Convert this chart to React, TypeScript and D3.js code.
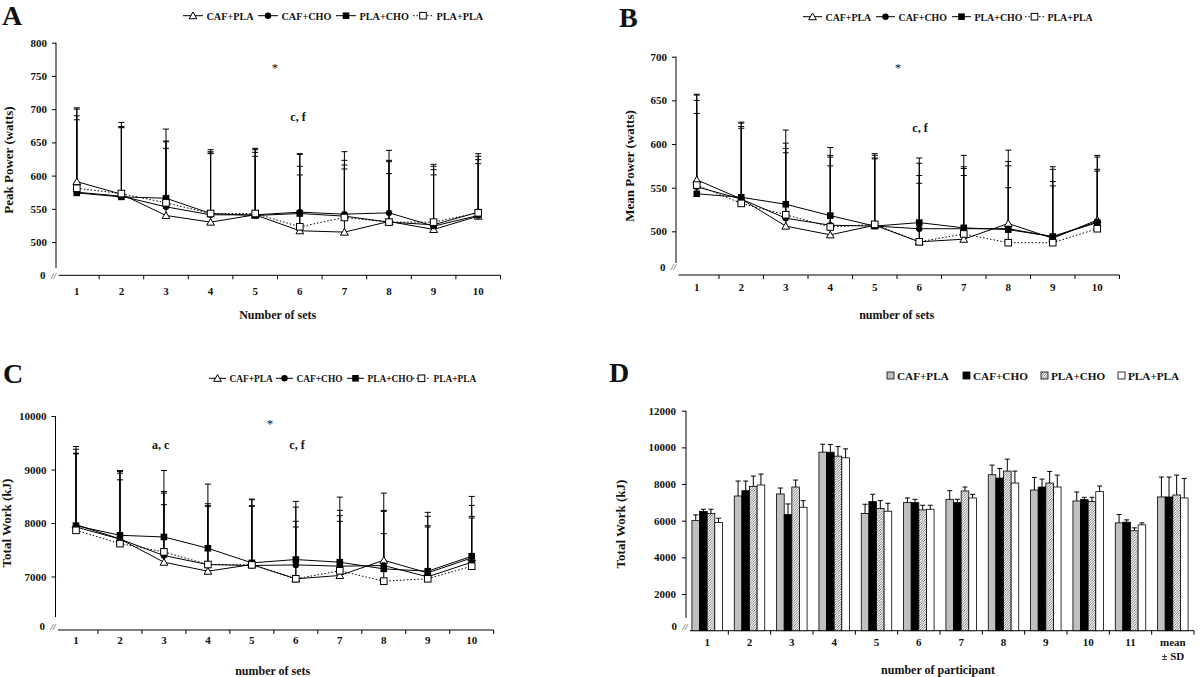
import { useEffect, useRef } from 'react';
import * as d3 from 'd3';

const SERIES = ['CAF+PLA', 'CAF+CHO', 'PLA+CHO', 'PLA+PLA'];
const SETS = ['1', '2', '3', '4', '5', '6', '7', '8', '9', '10'];
const PARTICIPANTS = ['1', '2', '3', '4', '5', '6', '7', '8', '9', '10', '11', 'mean'];

// A - peak power (watts)
const peakCafPla = [591, 572, 540, 530, 541, 517, 515, 531, 519, 539];
const peakCafCho = [575, 569, 553, 541, 541, 545, 542, 544, 524, 540];
const peakPlaCho = [574, 568, 566, 543, 540, 543, 539, 530, 526, 545];
const peakPlaPla = [581, 573, 559, 543, 543, 523, 537, 530, 530, 544];
const peakSdCafPla = [111, 108, 130, 109, 100, 116, 121, 107, 98, 94];
const peakSdCafCho = [115, 105, 98, 95, 98, 87, 81, 79, 90, 89];
const peakSdPlaCho = [110, 105, 86, 91, 95, 71, 77, 91, 83, 79];
const peakSdPlaPla = [119, 99, 82, 90, 86, 78, 73, 73, 71, 74];

// B - mean power (watts)
const meanCafPla = [559, 537, 506, 496, 507, 488, 491, 509, 492, 513];
const meanCafCho = [551, 537, 515, 507, 506, 503, 503, 503, 494, 511];
const meanPlaCho = [543, 539, 531, 518, 506, 510, 504, 502, 494, 510];
const meanPlaPla = [553, 532, 519, 505, 508, 488, 497, 487, 487, 503];
const meanSdCafPla = [98, 88, 110, 100, 82, 96, 96, 84, 82, 74];
const meanSdCafCho = [105, 87, 86, 80, 81, 75, 71, 77, 77, 74];
const meanSdPlaCho = [107, 81, 64, 67, 78, 54, 68, 73, 63, 61];
const meanSdPlaPla = [82, 86, 71, 70, 75, 67, 67, 63, 65, 66];

// C - total work per set (kJ)
const workCafPla = [7969, 7702, 7267, 7099, 7224, 6957, 7019, 7304, 7068, 7348];
const workCafCho = [7925, 7700, 7391, 7224, 7205, 7217, 7193, 7205, 6994, 7267];
const workPlaCho = [7950, 7770, 7739, 7528, 7255, 7317, 7267, 7143, 7099, 7379];
const workPlaPla = [7863, 7615, 7460, 7224, 7217, 6957, 7106, 6913, 6957, 7193];
const workSdCafPla = [1460, 1279, 1714, 1628, 1223, 1447, 1465, 1255, 1131, 1149];
const workSdCafCho = [1454, 1263, 1199, 1136, 1230, 1081, 1043, 1031, 1130, 1062];
const workSdPlaCho = [1354, 1162, 820, 795, 1068, 714, 870, 1074, 851, 745];
const workSdPlaPla = [1429, 1192, 882, 1087, 1094, 968, 925, 888, 968, 900];

// D - total work per participant (kJ)
const partCafPla = [6009, 7348, 7457, 9738, 6389, 6986, 7167, 8507, 7674, 7077, 5882, 7294];
const partCafCho = [6498, 7638, 6335, 9738, 7041, 6986, 6986, 8326, 7837, 7149, 5919, 7294];
const partPlaCho = [6389, 7873, 7837, 9520, 6661, 6588, 7620, 8706, 8054, 7041, 5448, 7403];
const partPlaPla = [5900, 7946, 6733, 9430, 6516, 6624, 7240, 8054, 7837, 7584, 5774, 7240];
const partSdCafPla = [308, 815, 326, 434, 507, 254, 471, 525, 688, 489, 453, 1086];
const partSdCafCho = [126, 525, 579, 416, 398, 181, 181, 525, 434, 127, 126, 1086];
const partSdPlaCho = [235, 561, 380, 525, 434, 254, 217, 651, 634, 235, 163, 1085];
const partSdPlaPla = [236, 597, 362, 489, 434, 218, 199, 652, 651, 307, 108, 1068];

const peakTicks = [500, 550, 600, 650, 700, 750, 800];
const meanTicks = [500, 550, 600, 650, 700];
const workTicks = [7000, 8000, 9000, 10000];
const partTicks = [2000, 4000, 6000, 8000, 10000, 12000];

const FONT = '"Liberation Serif", "Times New Roman", serif';
const MARKERS = ['tri', 'circle', 'square', 'open'];

function marker(g: any, type: string, cx: number, cy: number) {
  if (type === 'tri') {
    g.append('path')
      .attr('d', d3.symbol(d3.symbolTriangle, 26)())
      .attr('transform', `translate(${cx},${cy + 0.8})`)
      .style('fill', '#fff').style('stroke', '#000').style('stroke-width', 1);
  } else if (type === 'circle') {
    g.append('circle').attr('cx', cx).attr('cy', cy).attr('r', 3.2).style('fill', '#000');
  } else if (type === 'square') {
    g.append('rect').attr('x', cx - 3.3).attr('y', cy - 3.3).attr('width', 6.6).attr('height', 6.6).style('fill', '#000');
  } else {
    g.append('rect').attr('x', cx - 3.3).attr('y', cy - 3.3).attr('width', 6.6).attr('height', 6.6)
      .style('fill', '#fff').style('stroke', '#000').style('stroke-width', 1);
  }
}

function text(g: any, x: number, y: number, s: string, size: number, anchor = 'middle') {
  return g.append('text').attr('x', x).attr('y', y).attr('text-anchor', anchor)
    .style('font-family', FONT).style('font-weight', 'bold').style('font-size', `${size}px`)
    .style('fill', '#111').text(s);
}

function yTitle(g: any, cx: number, cy: number, s: string) {
  text(g, 0, 0, s, 13).attr('transform', `translate(${cx + 4.5},${cy}) rotate(-90)`);
}

function styleAxis(ax: any, size: number) {
  ax.select('.domain').remove();
  ax.selectAll('line').style('stroke', '#000').style('stroke-width', 1);
  ax.selectAll('text').style('font-family', FONT).style('font-weight', 'bold')
    .style('font-size', `${size}px`).style('fill', '#111');
}

function linePanel(root: any, o: any) {
  const g = root.append('g');
  const x = d3.scaleBand().domain(SETS).range([o.x0, o.x1]);
  const y = d3.scaleLinear().domain(o.yDomain).range([o.yBottom, o.yTop]);
  const cx = (d: string) => (x(d) as number) + x.bandwidth() / 2;

  // y axis
  const ay = g.append('g').attr('transform', `translate(${o.x0 + 1.5},0)`)
    .call(d3.axisLeft(y).tickValues(o.ticks).tickSize(4).tickPadding(5).tickFormat(d3.format('d')));
  styleAxis(ay, 11);
  g.append('line').attr('x1', o.x0 + 1.5).attr('x2', o.x0 + 1.5).attr('y1', y(o.yDomain[1])).attr('y2', o.yAxisEnd)
    .style('stroke', '#000');
  text(g, o.x0 - 9, o.zeroY + 4, '0', 11, 'end');
  text(g, o.x0 - 1, o.zeroY + 3.5, '//', 9).style('font-weight', 'normal').style('font-style', 'italic');

  // x axis
  const xBottom = y(o.yDomain[0]);
  g.append('line').attr('x1', o.x0 + 4).attr('x2', o.x1).attr('y1', xBottom).attr('y2', xBottom).style('stroke', '#000');
  g.append('g').selectAll('line').data(SETS).join('line')
    .attr('x1', (d: string) => (x(d) as number) + x.bandwidth()).attr('x2', (d: string) => (x(d) as number) + x.bandwidth())
    .attr('y1', xBottom).attr('y2', xBottom + 4).style('stroke', '#000');
  const ax = g.append('g').attr('transform', `translate(0,${o.labelY - 11})`)
    .call(d3.axisBottom(x).tickSize(0).tickPadding(0));
  styleAxis(ax, 11);
  ax.selectAll('text').attr('dy', '0.71em');

  const series = o.values.map((v: number[], i: number) => ({ v, sd: o.sds[i], m: MARKERS[i] }));

  // error bars (upper SD only)
  const eb = g.append('g');
  series.forEach((s: any) => {
    SETS.forEach((d, j) => {
      const top = y(s.v[j] + s.sd[j]);
      eb.append('line').attr('x1', cx(d)).attr('x2', cx(d)).attr('y1', y(s.v[j])).attr('y2', top)
        .style('stroke', '#000').style('stroke-width', 1);
      eb.append('line').attr('x1', cx(d) - 3).attr('x2', cx(d) + 3).attr('y1', top).attr('y2', top)
        .style('stroke', '#000').style('stroke-width', 1);
    });
  });

  const line = d3.line<number>().x((_, j) => cx(SETS[j])).y(v => y(v));
  series.forEach((s: any, i: number) => {
    g.append('path').attr('d', line(s.v)).style('fill', 'none').style('stroke', '#000')
      .style('stroke-width', 1).style('stroke-dasharray', i === 3 ? '1.5,2' : null);
  });
  series.forEach((s: any) => {
    SETS.forEach((d, j) => marker(g, s.m, cx(d), y(s.v[j])));
  });

  // legend
  SERIES.forEach((name, i) => {
    const sx = o.legendX[i];
    const seg = o.legendSeg;
    g.append('line').attr('x1', sx).attr('x2', sx + seg).attr('y1', o.legendY).attr('y2', o.legendY)
      .style('stroke', '#000').style('stroke-dasharray', i === 3 ? '1.5,2' : null);
    marker(g, MARKERS[i], sx + seg / 2, o.legendY);
    text(g, sx + seg + 3.5, o.legendY + 4, name, o.legendSize, 'start');
  });

  text(g, o.letter[0], o.letter[1], o.letter[2], 28, 'start');
  yTitle(g, o.yTitle[0], o.yTitle[1], o.yTitle[2]);
  text(g, o.xTitle[0], o.xTitle[1], o.xTitle[2], 12);
  o.notes.forEach((n: any) => {
    const star = n[2] === '*';
    text(g, n[0], n[1], n[2], star ? 13 : 12).style('font-weight', star ? 'normal' : 'bold');
  });
}

function barPanel(root: any) {
  const g = root.append('g');
  const x0 = d3.scaleBand().domain(PARTICIPANTS).range([686, 1194]).paddingInner(0.28).paddingOuter(0.14);
  const x1 = d3.scaleBand().domain(SERIES).range([0, x0.bandwidth()]);
  const y = d3.scaleLinear().domain([0, 12000]).range([630.7, 410.7]);
  const values = [partCafPla, partCafCho, partPlaCho, partPlaPla];
  const sds = [partSdCafPla, partSdCafCho, partSdPlaCho, partSdPlaPla];
  const fills = ['#c0c0c0', '#000', 'url(#hatch)', '#fff'];

  const ay = g.append('g').attr('transform', 'translate(686,0)')
    .call(d3.axisLeft(y).tickValues(partTicks).tickSize(4).tickPadding(6).tickFormat(d3.format('d')));
  styleAxis(ay, 11);
  g.append('line').attr('x1', 686).attr('x2', 686).attr('y1', y(12000)).attr('y2', 618).style('stroke', '#000');
  text(g, 677, 630, '0', 11, 'end');
  text(g, 685, 629.5, '//', 9).style('font-weight', 'normal').style('font-style', 'italic');

  g.append('line').attr('x1', 690).attr('x2', 1194).attr('y1', y(0)).attr('y2', y(0)).style('stroke', '#000');
  g.append('g').selectAll('line').data(PARTICIPANTS).join('line')
    .attr('x1', (_: string, i: number) => 686 + (i + 1) * x0.step())
    .attr('x2', (_: string, i: number) => 686 + (i + 1) * x0.step())
    .attr('y1', y(0)).attr('y2', y(0) + 4).style('stroke', '#000');

  values.forEach((vals, k) => {
    const key = SERIES[k];
    const bx = (d: string) => (x0(d) as number) + (x1(key) as number);
    g.append('g').selectAll('rect').data(PARTICIPANTS).join('rect')
      .attr('x', (d: string) => bx(d)).attr('width', x1.bandwidth())
      .attr('y', (_: string, i: number) => y(vals[i])).attr('height', (_: string, i: number) => y(0) - y(vals[i]))
      .style('fill', fills[k]).style('stroke', '#000').style('stroke-width', 0.8);
    const eg = g.append('g');
    PARTICIPANTS.forEach((d, i) => {
      const c = bx(d) + x1.bandwidth() / 2;
      const top = y(vals[i] + sds[k][i]);
      eg.append('line').attr('x1', c).attr('x2', c).attr('y1', y(vals[i])).attr('y2', top).style('stroke', '#000');
      eg.append('line').attr('x1', c - 2.5).attr('x2', c + 2.5).attr('y1', top).attr('y2', top).style('stroke', '#000');
    });
  });

  const ax = g.append('g').attr('transform', 'translate(0,638)').call(d3.axisBottom(x0).tickSize(0).tickPadding(0));
  styleAxis(ax, 11);
  ax.selectAll('text').attr('dy', '0.71em');
  ax.selectAll('.tick').filter((d: string) => d === 'mean').select('text')
    .call((t: any) => t.append('tspan').attr('x', 0).attr('dy', '1.25em').text('± SD'));

  SERIES.forEach((name, i) => {
    const sx = [887, 963, 1041, 1118][i];
    g.append('rect').attr('x', sx).attr('y', 372).attr('width', 7).attr('height', 7)
      .style('fill', fills[i]).style('stroke', '#000').style('stroke-width', 0.8);
    text(g, sx + 10, 380, name, 11.2, 'start');
  });

  text(g, 609, 382, 'D', 28, 'start');
  yTitle(g, 620, 524, 'Total Work (kJ)');
  text(g, 938, 674, 'number of participant', 12);
}

export default function App() {
  const svgRef = useRef<SVGSVGElement>(null);

  useEffect(() => {
    if (!svgRef.current) return;
    const svg = d3.select(svgRef.current);
    svg.selectAll('*').remove();

    const pat = svg.append('defs').append('pattern').attr('id', 'hatch')
      .attr('patternUnits', 'userSpaceOnUse').attr('width', 2.5).attr('height', 2.5);
    pat.append('rect').attr('width', 2.5).attr('height', 2.5).style('fill', '#fff');
    pat.append('path').attr('d', 'M0,2.5 L2.5,0 M-0.6,0.6 L0.6,-0.6 M1.9,3.1 L3.1,1.9')
      .style('stroke', '#555').style('stroke-width', 0.8);

    const root = svg.append('g');

    linePanel(root, {
      x0: 54.5, x1: 500.5, yDomain: [450, 800], yBottom: 275.3, yTop: 42.7, yAxisEnd: 268, zeroY: 275.3,
      ticks: peakTicks, labelY: 298,
      values: [peakCafPla, peakCafCho, peakPlaCho, peakPlaPla],
      sds: [peakSdCafPla, peakSdCafCho, peakSdPlaCho, peakSdPlaPla],
      legendX: [183, 258, 336, 413], legendY: 15.7, legendSize: 10.2, legendSeg: 20,
      letter: [2, 25, 'A'], yTitle: [8, 160, 'Peak Power (watts)'], xTitle: [277.7, 319, 'Number of sets'],
      notes: [[275, 72, '*'], [298, 121, 'c, f']],
    });

    linePanel(root, {
      x0: 674.5, x1: 1119.5, yDomain: [450, 700], yBottom: 275, yTop: 56.7, yAxisEnd: 263, zeroY: 266.7,
      ticks: meanTicks, labelY: 294,
      values: [meanCafPla, meanCafCho, meanPlaCho, meanPlaPla],
      sds: [meanSdCafPla, meanSdCafCho, meanSdPlaCho, meanSdPlaPla],
      legendX: [803, 876, 952, 1025], legendY: 16.7, legendSize: 9.9, legendSeg: 19,
      letter: [619, 27, 'B'], yTitle: [629, 166, 'Mean Power (watts)'], xTitle: [896.7, 319, 'number of sets'],
      notes: [[898, 72, '*'], [920, 132, 'c, f']],
    });

    linePanel(root, {
      x0: 54, x1: 493.7, yDomain: [6000, 10000], yBottom: 630, yTop: 416, yAxisEnd: 617, zeroY: 626,
      ticks: workTicks, labelY: 647,
      values: [workCafPla, workCafCho, workPlaCho, workPlaPla],
      sds: [workSdCafPla, workSdCafCho, workSdPlaCho, workSdPlaPla],
      legendX: [209, 276, 347, 413], legendY: 378.3, legendSize: 9.4, legendSeg: 17,
      letter: [3, 383, 'C'], yTitle: [6, 523, 'Total Work (kJ)'], xTitle: [272.7, 675, 'number of sets'],
      notes: [[270, 428, '*'], [160.7, 449, 'a, c'], [297, 449, 'c, f']],
    });

    barPanel(root);
  }, []);

  return (
    <svg ref={svgRef} width={1200} height={677}
      style={{ position: 'absolute', left: 0, top: 0, background: '#fff' }} />
  );
}
